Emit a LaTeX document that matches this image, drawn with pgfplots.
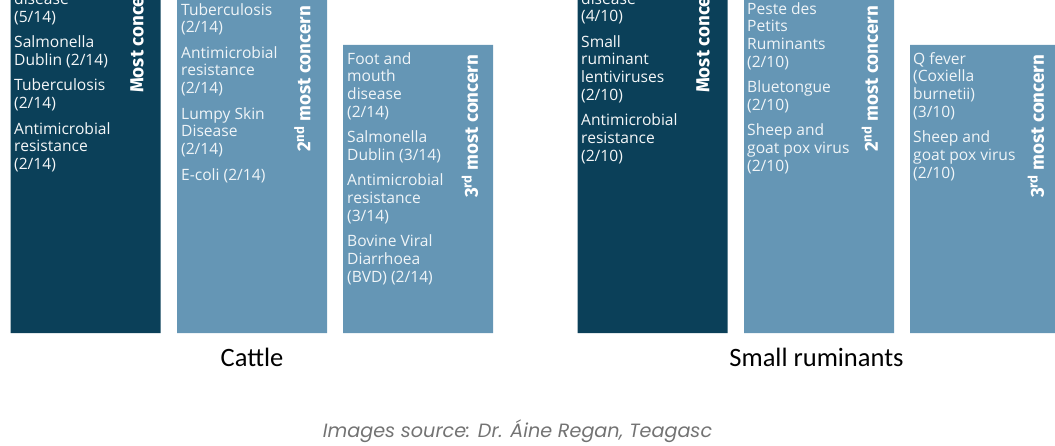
\documentclass[border=0pt]{standalone}
\usepackage{pgfplots}
\pgfplotsset{compat=1.18}
\usepackage{fontspec}
\setmainfont{Open Sans}
\newfontfamily\labfont{Carlito}
\newfontfamily\rotfont{Fira Sans}
\newfontfamily\srcfont{Poppins}
\definecolor{darkbar}{HTML}{0B4059}
\definecolor{lightbar}{HTML}{6596B5}
\colorlet{lighttxt}{white!90!lightbar}
\colorlet{darktxt}{white!96!darkbar}
\begin{document}
\begin{tikzpicture}[
  body/.style={anchor=north west, inner sep=0pt, align=left, font={\fontsize{15.6}{17.7}\selectfont}},
  rot/.style={anchor=west, inner sep=0pt, rotate=90, text=white, font={\rotfont\bfseries\fontsize{18.8}{20}\selectfont}},
]
\begin{axis}[
  scale only axis, width=1055pt, height=445pt,
  xmin=0, xmax=1055, ymin=-112, ymax=333,
  axis lines=none, ticks=none,
  ybar, bar width=150, bar shift=0pt,
  clip=true,
]
\addplot[fill=darkbar, draw=none] coordinates {(85.5,400) (652.5,400)};
\addplot[fill=lightbar, draw=none] coordinates {(252,400) (418,288) (819,400) (985,288)};

% Cattle texts
\node[body, text=darktxt] at (axis cs:14,340.5) {disease\\(5/14)\\[7.8pt]Salmonella\\Dublin (2/14)\\[7.8pt]Tuberculosis\\(2/14)\\[7.8pt]Antimicrobial\\resistance\\(2/14)};
\node[body, text=lighttxt] at (axis cs:181,330) {Tuberculosis\\(2/14)\\[7.8pt]Antimicrobial\\resistance\\(2/14)\\[7.8pt]Lumpy Skin\\Disease\\(2/14)\\[7.8pt]E-coli (2/14)};
\node[body, text=lighttxt] at (axis cs:347,281) {Foot and\\mouth\\disease\\(2/14)\\[7.8pt]Salmonella\\Dublin (3/14)\\[7.8pt]Antimicrobial\\resistance\\(3/14)\\[7.8pt]Bovine Viral\\Diarrhoea\\(BVD) (2/14)};
% Small ruminant texts
\node[body, text=darktxt] at (axis cs:581,341) {disease\\(4/10)\\[7.8pt]Small\\ruminant\\lentiviruses\\(2/10)\\[7.8pt]Antimicrobial\\resistance\\(2/10)};
\node[body, text=lighttxt] at (axis cs:747,331) {Peste des\\Petits\\Ruminants\\(2/10)\\[7.8pt]Bluetongue\\(2/10)\\[7.8pt]Sheep and\\goat pox virus\\(2/10)};
\node[body, text=lighttxt] at (axis cs:913,281) {Q fever\\(Coxiella\\burnetii)\\(3/10)\\[7.8pt]Sheep and\\goat pox virus\\(2/10)};

% rotated labels
\node[rot] at (axis cs:137,240) {Most concern};
\node[rot] at (axis cs:302.5,181) {2\textsuperscript{nd} most concern};
\node[rot] at (axis cs:470,135) {3\textsuperscript{rd} most concern};
\node[rot] at (axis cs:703,240) {Most concern};
\node[rot] at (axis cs:870,181) {2\textsuperscript{nd} most concern};
\node[rot] at (axis cs:1036,135) {3\textsuperscript{rd} most concern};

% category labels
\node[anchor=base, inner sep=0pt, font={\labfont\fontsize{26.5}{28}\selectfont}] at (axis cs:252,-33.7) {Cattle};
\node[anchor=base, inner sep=0pt, font={\labfont\fontsize{26.5}{28}\selectfont}] at (axis cs:816.5,-33.7) {Small ruminants};
% source
\node[anchor=base, inner sep=0pt, text=black!55, font={\srcfont\itshape\fontsize{19.2}{20}\selectfont}] at (axis cs:517.5,-104) {Images source: Dr. Áine Regan, Teagasc};
\end{axis}
\pgfresetboundingbox
\path (current axis.south west) rectangle (current axis.north east);
\end{tikzpicture}
\end{document}
